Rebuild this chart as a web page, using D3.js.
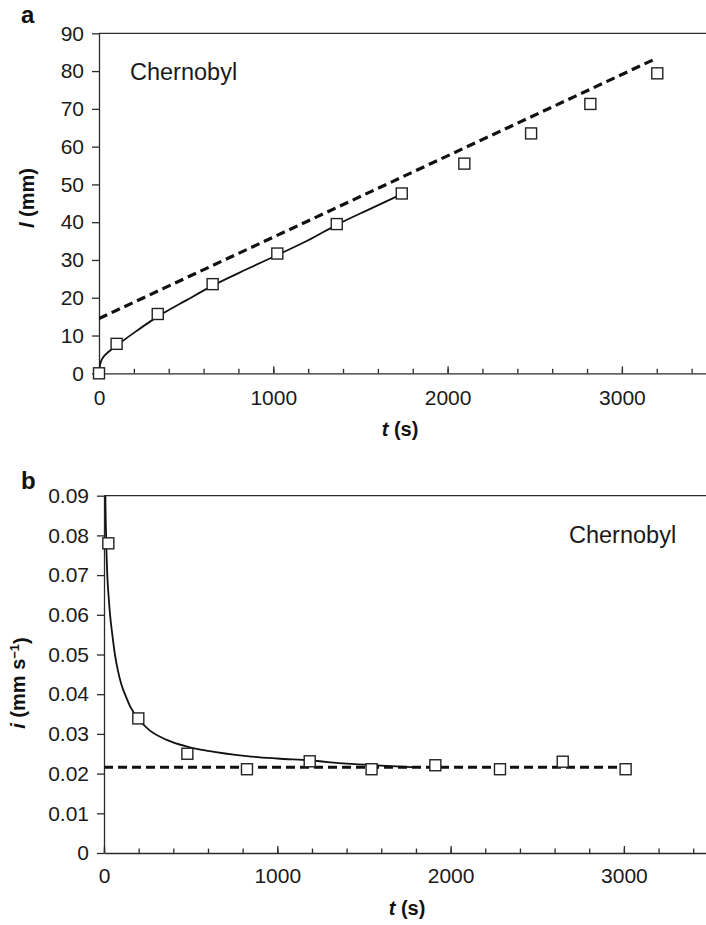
<!DOCTYPE html>
<html>
<head>
<meta charset="utf-8">
<script src="https://cdn.jsdelivr.net/npm/d3@7"></script>
<style>
  html, body { margin: 0; padding: 0; background: #fff; }
  svg { display: block; font-family: "Liberation Sans", Arial, Helvetica, sans-serif; }
</style>
</head>
<body>
<svg id="chart" width="706" height="925"></svg>
<script>
// ---- Panel a: penetration depth l (mm) vs time t (s) ----
const aTime  = [0, 101, 337, 652, 1023, 1364, 1737, 2096, 2479, 2819, 3203];
const aDepth = [0, 7.8, 15.7, 23.6, 31.7, 39.5, 47.6, 55.5, 63.5, 71.3, 79.4];

// fitted curve (solid) sampled along its path
const aFitTime  = [0, 3, 10, 25, 50, 80, 120, 200, 337, 500, 652, 850, 1023, 1200, 1364, 1550, 1740];
const aFitDepth = [0, 1.4, 2.9, 4.3, 5.5, 6.6, 8.0, 10.7, 15.0, 19.3, 23.2, 27.6, 31.3, 35.2, 39.3, 43.4, 47.5];

// steady-state line (dashed)
const aLineTime  = [0, 3190];
const aLineDepth = [14.5, 83.2];

const aYTicks = [0, 10, 20, 30, 40, 50, 60, 70, 80, 90];

// ---- Panel b: rate i (mm s^-1) vs time t (s) ----
const bTime = [25, 198, 481, 825, 1187, 1544, 1912, 2285, 2647, 3010];
const bRate = [0.078, 0.0339, 0.0250, 0.0211, 0.0231, 0.0211, 0.0221, 0.0211, 0.0230, 0.0211];

const bFitTime = [5, 8, 12, 19, 26, 35, 48, 63, 80, 100, 121, 150, 198, 260, 362, 480, 600, 825, 1000, 1187, 1400, 1600, 1780];
const bFitRate = [0.115, 0.090, 0.080, 0.070, 0.065, 0.060, 0.055, 0.050, 0.046, 0.0425, 0.040, 0.037, 0.0338, 0.0310, 0.0285, 0.0268, 0.0257, 0.0244, 0.0238, 0.0233, 0.0225, 0.0220, 0.0216];

const bLineTime = [0, 3040];
const bLineRate = [0.0216, 0.0216];

const bYTicks = [0, 0.01, 0.02, 0.03, 0.04, 0.05, 0.06, 0.07, 0.08, 0.09];

const xMajorTicks = [0, 1000, 2000, 3000];
const xMinorTicks = d3.range(0, 3401, 200);

const svg = d3.select("#chart");
const axisColor = "#2b2b2b";

function panel(cfg) {
  const x = d3.scaleLinear().domain([0, 3500]).range([cfg.left, cfg.left + cfg.pxPer1000 * 3.5]);
  const y = d3.scaleLinear().domain([0, cfg.yMax]).range([cfg.bottom, cfg.top]);
  const g = svg.append("g");

  const clipId = "clip-" + cfg.name;
  svg.append("clipPath").attr("id", clipId)
    .append("rect").attr("x", cfg.left).attr("y", cfg.top)
    .attr("width", 706 - cfg.left).attr("height", cfg.bottom - cfg.top);

  // top frame line
  g.append("line")
    .attr("x1", cfg.left).attr("x2", 706)
    .attr("y1", cfg.top).attr("y2", cfg.top)
    .attr("stroke", axisColor).attr("stroke-width", 1.3);

  // minor x ticks (inward)
  const xMinor = g.append("g").attr("transform", `translate(0,${cfg.bottom})`)
    .call(d3.axisBottom(x).tickValues(xMinorTicks).tickSizeInner(-4.5).tickSizeOuter(0).tickFormat(""));
  xMinor.select(".domain").remove();

  // major x ticks with labels
  const xAxis = g.append("g").attr("transform", `translate(0,${cfg.bottom})`)
    .call(d3.axisBottom(x).tickValues(xMajorTicks).tickSizeInner(-7).tickSizeOuter(0)
      .tickPadding(cfg.xPad).tickFormat(d3.format("d")));
  xAxis.select(".domain").attr("stroke", axisColor).attr("stroke-width", 1.3);

  // y axis
  const yAxis = g.append("g").attr("transform", `translate(${cfg.left},0)`)
    .call(d3.axisLeft(y).tickValues(cfg.yTicks).tickSizeInner(7).tickSizeOuter(0).tickPadding(8)
      .tickFormat(cfg.yFormat));
  yAxis.select(".domain").attr("stroke", axisColor).attr("stroke-width", 1.3);

  [xMinor, xAxis, yAxis].forEach(a => {
    a.selectAll(".tick line").attr("stroke", axisColor).attr("stroke-width", 1.3);
    a.selectAll(".tick text").attr("fill", "#1a1a1a")
      .style("font-family", "'Liberation Sans', Arial, sans-serif").style("font-size", "21px");
  });

  const line = d3.line().x(d => x(d[0])).y(d => y(d[1]));
  const plot = g.append("g").attr("clip-path", `url(#${clipId})`);

  // dashed steady-state line
  plot.append("path")
    .datum(d3.zip(cfg.lineT, cfg.lineV))
    .attr("d", line)
    .attr("fill", "none").attr("stroke", "#111").attr("stroke-width", 3.2)
    .attr("stroke-dasharray", "9,5");

  // solid fitted curve
  plot.append("path")
    .datum(d3.zip(cfg.fitT, cfg.fitV))
    .attr("d", line.curve(d3.curveMonotoneX))
    .attr("fill", "none").attr("stroke", "#111").attr("stroke-width", 1.8);

  // square markers
  const s = 11;
  g.append("g").selectAll("rect")
    .data(d3.zip(cfg.ptT, cfg.ptV))
    .join("rect")
    .attr("x", d => x(d[0]) - s / 2)
    .attr("y", d => y(d[1]) - s / 2)
    .attr("width", s).attr("height", s)
    .attr("fill", "#fff").attr("stroke", "#222").attr("stroke-width", 1.4);

  // site label
  g.append("text")
    .attr("x", cfg.siteX).attr("y", cfg.siteY)
    .attr("fill", "#1a1a1a").style("font-size", "23.5px")
    .text("Chernobyl");

  // panel letter
  g.append("text")
    .attr("x", 21).attr("y", cfg.letterY)
    .attr("fill", "#111").style("font-size", "24px").style("font-weight", "bold")
    .text(cfg.name);

  // x axis title
  const xt = g.append("text")
    .attr("x", cfg.xTitleX).attr("y", cfg.xTitleY)
    .attr("text-anchor", "middle").attr("fill", "#111")
    .style("font-size", "20px").style("font-weight", "bold");
  xt.append("tspan").style("font-style", "italic").text("t");
  xt.append("tspan").text(" (s)");

  // y axis title
  const yt = g.append("text")
    .attr("transform", `translate(${cfg.yTitleX},${cfg.yTitleY}) rotate(-90)`)
    .attr("text-anchor", "middle").attr("fill", "#111")
    .style("font-size", "20px").style("font-weight", "bold");
  cfg.yTitle(yt);
}

panel({
  name: "a", left: 99, pxPer1000: 174.3, top: 33.3, bottom: 373.3, yMax: 90,
  yTicks: aYTicks, yFormat: d3.format("d"), xPad: 17,
  ptT: aTime, ptV: aDepth, fitT: aFitTime, fitV: aFitDepth, lineT: aLineTime, lineV: aLineDepth,
  siteX: 130, siteY: 80, letterY: 23,
  xTitleX: 400, xTitleY: 436, yTitleX: 34, yTitleY: 198,
  yTitle: t => {
    t.append("tspan").style("font-style", "italic").text("l");
    t.append("tspan").text(" (mm)");
  }
});

panel({
  name: "b", left: 104, pxPer1000: 173.3, top: 495.7, bottom: 853, yMax: 0.09,
  yTicks: bYTicks, yFormat: d => d === 0 ? "0" : d3.format(".2f")(d), xPad: 15,
  ptT: bTime, ptV: bRate, fitT: bFitTime, fitV: bFitRate, lineT: bLineTime, lineV: bLineRate,
  siteX: 569, siteY: 543, letterY: 489,
  xTitleX: 407, xTitleY: 915, yTitleX: 25, yTitleY: 683,
  yTitle: t => {
    t.append("tspan").style("font-style", "italic").text("i");
    t.append("tspan").text(" (mm s");
    t.append("tspan").attr("dy", "-0.45em").style("font-size", "13px").text("\u22121");
    t.append("tspan").attr("dy", "0.45em").text(")");
  }
});
</script>
</body>
</html>
